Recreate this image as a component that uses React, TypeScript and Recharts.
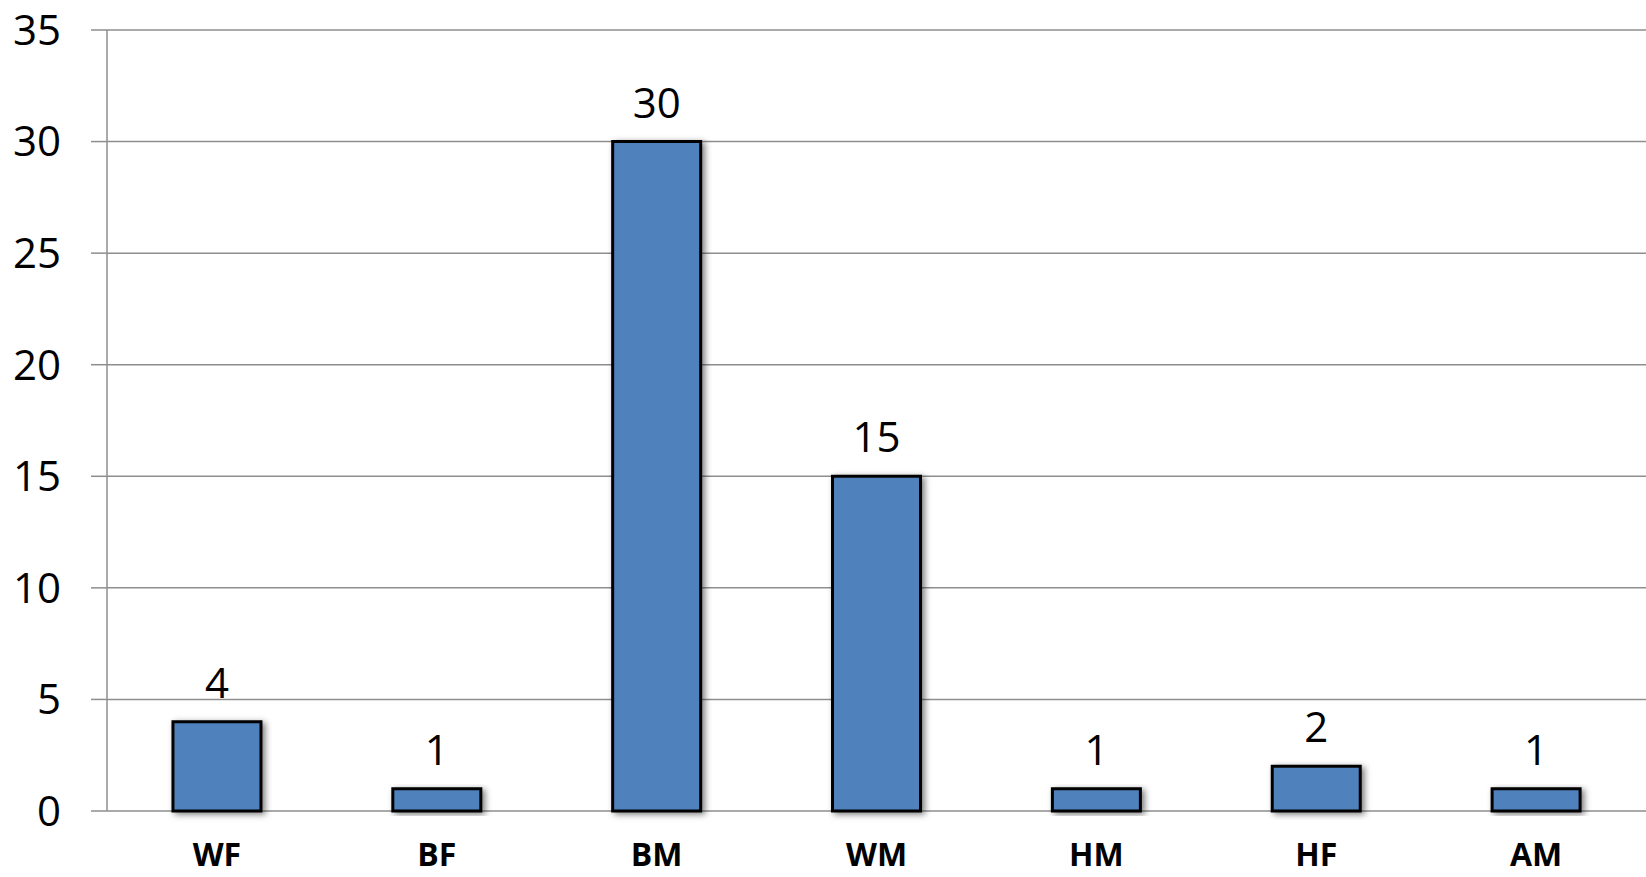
import { BarChart, Bar, XAxis, YAxis, CartesianGrid, LabelList } from "recharts";

const groups = ["WF", "BF", "BM", "WM", "HM", "HF", "AM"];
const counts = [4, 1, 30, 15, 1, 2, 1];
const yTicks = [0, 5, 10, 15, 20, 25, 30, 35];
const boundaryTicks = [0, 1, 2, 3, 4, 5, 6, 7];

const data = groups.map((g, i) => ({ group: g, count: counts[i] }));

const GRID = "#8e8e8e";
const FONT = "'Open Sans', sans-serif";

export default function App() {
  return (
    <div style={{ position: "absolute", left: 0, top: 0, background: "#fff" }}>
      <BarChart
        width={1646}
        height={877}
        data={data}
        margin={{ top: 30, right: 0, left: 0, bottom: 0 }}
        barCategoryGap="30%"
      >
        <defs>
          <filter id="barShadow" x="-20%" y="-20%" width="140%" height="140%">
            <feDropShadow dx="3" dy="2" stdDeviation="3" floodColor="#000" floodOpacity="0.5" />
          </filter>
        </defs>
        <CartesianGrid vertical={false} stroke={GRID} strokeWidth={1.5} />
        <XAxis
          xAxisId="ticks"
          type="number"
          domain={[0, 7]}
          ticks={boundaryTicks}
          allowDataOverflow
          tick={false}
          tickSize={12}
          height={0}
          axisLine={{ stroke: GRID, strokeWidth: 1.5 }}
          tickLine={{ stroke: GRID, strokeWidth: 1.5 }}
        />
        <XAxis
          dataKey="group"
          xAxisId="cat"
          axisLine={false}
          tickLine={false}
          tickSize={0}
          tickMargin={32}
          height={66}
          tick={{ fill: "#000", fontSize: 32, fontWeight: 700, fontFamily: FONT }}
        />
        <YAxis
          domain={[0, 35]}
          ticks={yTicks}
          width={107}
          tickSize={16}
          tickMargin={30}
          axisLine={{ stroke: GRID, strokeWidth: 1.5 }}
          tickLine={{ stroke: GRID, strokeWidth: 1.5 }}
          tick={{ fill: "#000", fontSize: 42, fontFamily: FONT }}
        />
        <Bar
          dataKey="count"
          xAxisId="cat"
          fill="#4F81BD"
          stroke="#000"
          strokeWidth={3}
          filter="url(#barShadow)"
          isAnimationActive={false}
        >
          <LabelList
            dataKey="count"
            position="top"
            offset={24}
            fill="#000"
            fontSize={42}
            fontFamily={FONT}
          />
        </Bar>
      </BarChart>
    </div>
  );
}
